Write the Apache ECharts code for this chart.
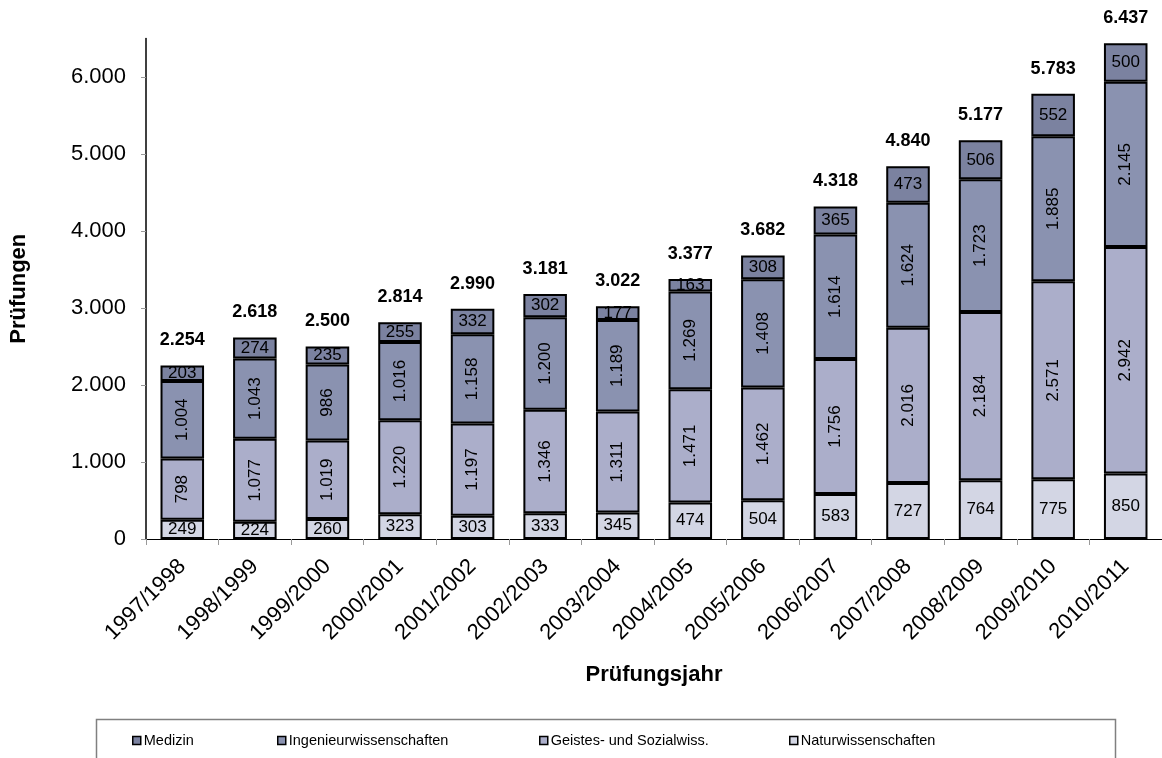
<!DOCTYPE html>
<html>
<head>
<meta charset="utf-8">
<script src="https://cdn.jsdelivr.net/npm/echarts@6/dist/echarts.min.js"></script>
<style>
html,body{margin:0;padding:0;background:#fff;}
#chart{width:1162px;height:758px;}
</style>
</head>
<body>
<div id="chart"></div>
<script>
const categories = ['1997/1998','1998/1999','1999/2000','2000/2001','2001/2002','2002/2003','2003/2004','2004/2005','2005/2006','2006/2007','2007/2008','2008/2009','2009/2010','2010/2011'];
const naturwissenschaften = [249,224,260,323,303,333,345,474,504,583,727,764,775,850];
const geistesSozial = [798,1077,1019,1220,1197,1346,1311,1471,1462,1756,2016,2184,2571,2942];
const ingenieur = [1004,1043,986,1016,1158,1200,1189,1269,1408,1614,1624,1723,1885,2145];
const medizin = [203,274,235,255,332,302,177,163,308,365,473,506,552,500];
const totals = [2254,2618,2500,2814,2990,3181,3022,3377,3682,4318,4840,5177,5783,6437];
const yTicks = [0,1000,2000,3000,4000,5000,6000];

const colors = {
  natur: '#d3d6e4',
  geistes: '#abaeca',
  ingenieur: '#8a92b0',
  medizin: '#7b82a0'
};

function fmt(v){
  return String(v).replace(/\B(?=(\d{3})+(?!\d))/g, '.');
}

const font = 'Liberation Sans, Arial, sans-serif';

function seg(name, data, color, rotate){
  return {
    name: name,
    type: 'bar',
    stack: 'total',
    data: data,
    barWidth: '60%',
    itemStyle: {color: color, borderColor: '#000', borderWidth: 2},
    label: {
      show: true,
      position: 'inside',
      rotate: rotate ? 90 : 0,
      color: '#000',
      fontFamily: font,
      fontSize: 17,
      formatter: p => fmt(p.value)
    },
    emphasis: {disabled: true}
  };
}

const chart = echarts.init(document.getElementById('chart'), null, {renderer: 'canvas'});
const legendBase = {
  top: 728,
  itemWidth: 8,
  itemHeight: 8,
  itemGap: 0,
  textStyle: {fontFamily: font, fontSize: 14.5, color: '#000', padding: [0,0,0,-2]},
  icon: 'rect',
  itemStyle: {borderColor: '#000', borderWidth: 1.5},
  selectedMode: false
};
chart.setOption({
  animation: false,
  backgroundColor: '#fff',
  grid: {left: 133, right: -3, top: 38.5, bottom: 219, containLabel: false},
  xAxis: {
    type: 'category',
    data: categories,
    name: 'Prüfungsjahr',
    nameLocation: 'middle',
    nameGap: 125,
    nameTextStyle: {fontFamily: font, fontSize: 22, fontWeight: 'bold', color: '#000'},
    axisLine: {lineStyle: {color: '#000', width: 1}},
    axisTick: {show: true, length: 6, lineStyle: {color: '#999'}},
    axisLabel: {rotate: 45, margin: 24, fontFamily: font, fontSize: 22, color: '#000'}
  },
  yAxis: {
    type: 'value',
    min: 0,
    max: 6500,
    interval: 500,
    name: 'Prüfungen',
    nameLocation: 'middle',
    nameGap: 116,
    nameRotate: 90,
    nameTextStyle: {fontFamily: font, fontSize: 22, fontWeight: 'bold', color: '#000'},
    axisLine: {show: true, lineStyle: {color: '#000', width: 1.5}},
    axisTick: {show: true, length: 5, inside: false, customValues: yTicks, lineStyle: {color: '#999'}},
    axisLabel: {customValues: yTicks, margin: 20, fontFamily: font, fontSize: 22, color: '#000', formatter: v => fmt(v)},
    splitLine: {show: false}
  },
  legend: [
    Object.assign({}, legendBase, {left: 127, data: ['Medizin']}),
    Object.assign({}, legendBase, {left: 272, data: ['Ingenieurwissenschaften']}),
    Object.assign({}, legendBase, {left: 534, data: ['Geistes- und Sozialwiss.']}),
    Object.assign({}, legendBase, {left: 784, data: ['Naturwissenschaften']})
  ],
  graphic: [{
    type: 'rect',
    shape: {x: 96.5, y: 719.5, width: 1019, height: 60},
    style: {fill: 'none', stroke: '#808080', lineWidth: 1.5},
    silent: true,
    z: -1
  }],
  series: [
    seg('Naturwissenschaften', naturwissenschaften, colors.natur, false),
    seg('Geistes- und Sozialwiss.', geistesSozial, colors.geistes, true),
    seg('Ingenieurwissenschaften', ingenieur, colors.ingenieur, true),
    seg('Medizin', medizin, colors.medizin, false),
    {
      name: 'Gesamt',
      type: 'bar',
      stack: 'total',
      data: totals.map(() => 0),
      barWidth: '60%',
      itemStyle: {color: 'transparent', borderWidth: 0},
      label: {
        show: true,
        position: 'top',
        distance: 16,
        color: '#000',
        fontFamily: font,
        fontSize: 18,
        fontWeight: 'bold',
        formatter: p => fmt(totals[p.dataIndex])
      },
      emphasis: {disabled: true},
      silent: true
    }
  ]
});
</script>
</body>
</html>
